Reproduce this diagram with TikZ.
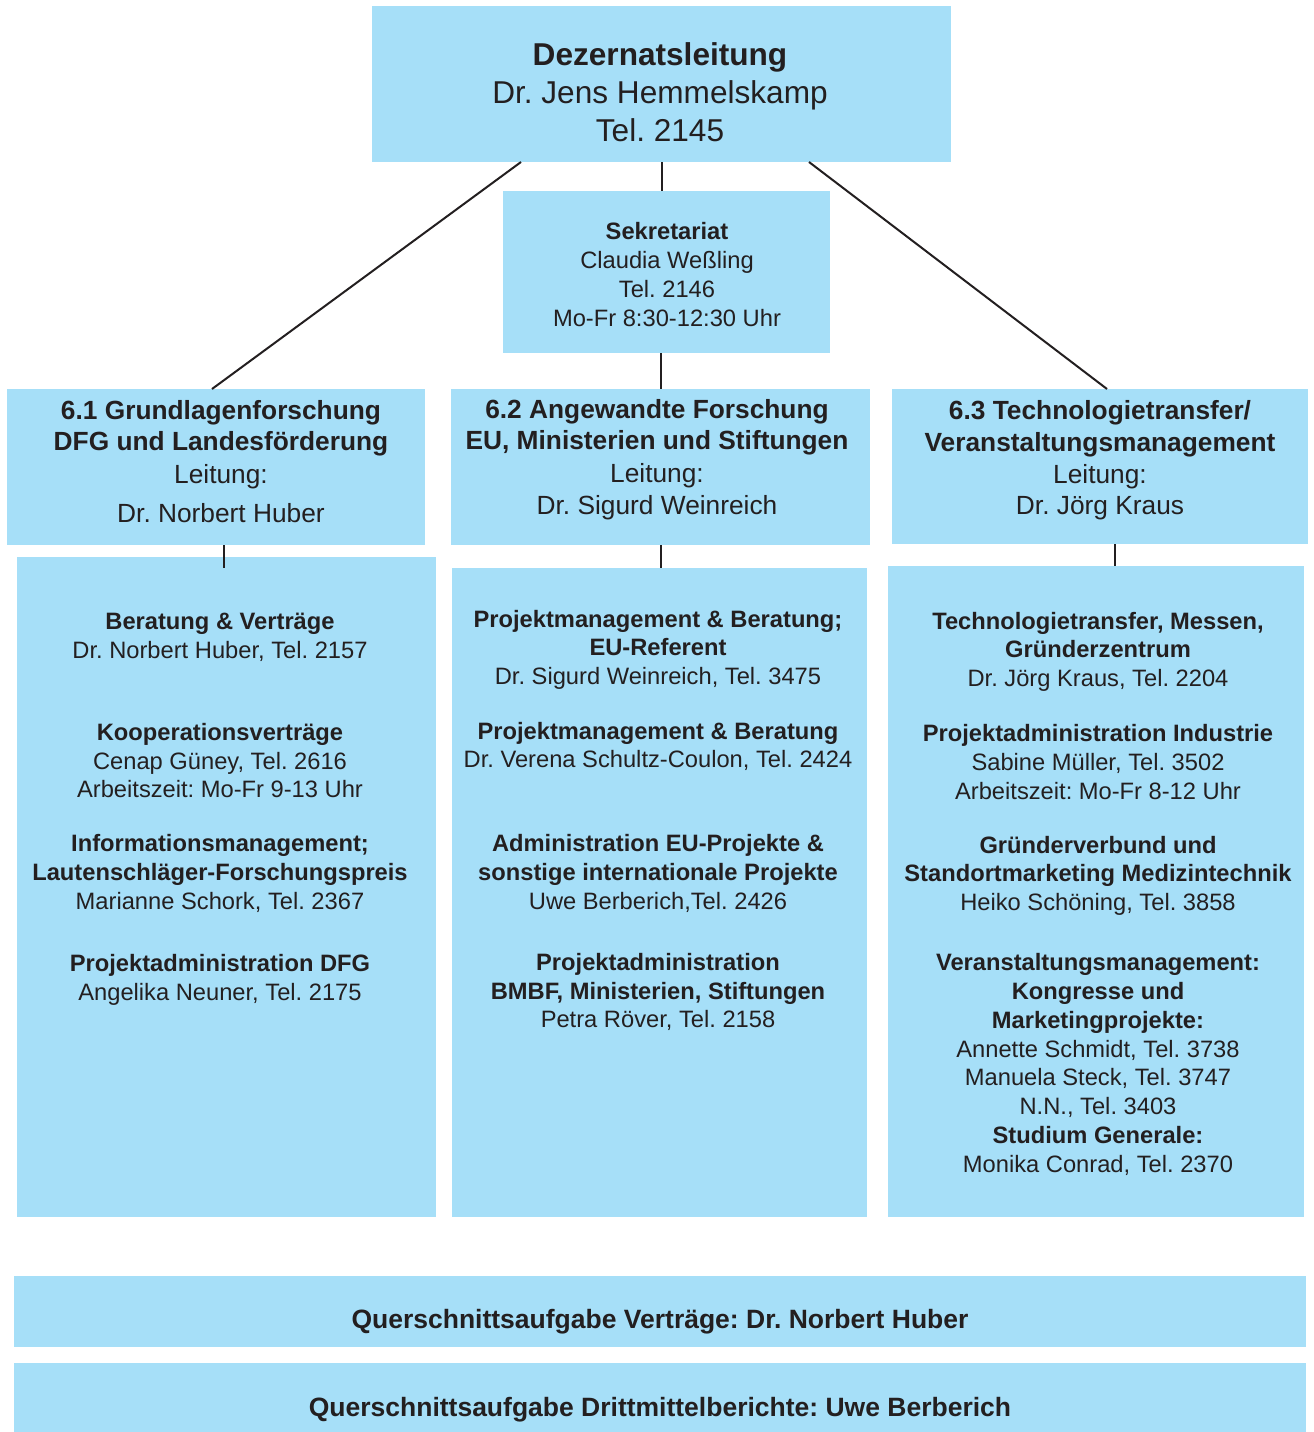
\documentclass[tikz,border=0pt]{standalone}
\usepackage{fontspec}
\setmainfont{Liberation Sans}
\frenchspacing
\definecolor{boxblue}{RGB}{166,223,248}
\definecolor{ink}{RGB}{35,31,32}
\tikzset{
  box/.style={rectangle, fill=boxblue, draw=none, inner sep=0pt, outer sep=0pt},
  conn/.style={draw=ink, line width=2pt},
  tx/.style={anchor=base, inner sep=0pt, outer sep=0pt, text=ink},
  bigb/.style={tx, font=\fontsize{31.6}{38}\selectfont\bfseries},
  bigr/.style={tx, font=\fontsize{31.6}{38}\selectfont},
  hdb/.style={tx, font=\fontsize{26.3}{31}\selectfont\bfseries},
  hdr/.style={tx, font=\fontsize{26.3}{31}\selectfont},
  qb/.style={tx, font=\fontsize{26.5}{31}\selectfont\bfseries},
  smb/.style={tx, font=\fontsize{23.7}{29}\selectfont\bfseries},
  smr/.style={tx, font=\fontsize{23.7}{29}\selectfont},
}
\begin{document}
\begin{tikzpicture}[x=1pt,y=-1pt]
\useasboundingbox (0,0) rectangle (1314,1432);
% boxes
\node[box, minimum width=579pt, minimum height=156pt] (top) at (661.5,84) {};
\node[box, minimum width=327pt, minimum height=162pt] (sek) at (666.5,272) {};
\node[box, minimum width=418pt, minimum height=156pt] (g1) at (216,467) {};
\node[box, minimum width=419pt, minimum height=156pt] (g2) at (660.5,467) {};
\node[box, minimum width=416pt, minimum height=155pt] (g3) at (1100,466.5) {};
\node[box, minimum width=419pt, minimum height=660pt] (d1) at (226.5,887) {};
\node[box, minimum width=415pt, minimum height=649pt] (d2) at (659.5,892.5) {};
\node[box, minimum width=416pt, minimum height=651pt] (d3) at (1096,891.5) {};
\node[box, minimum width=1292pt, minimum height=71pt] (q1) at (660,1311.5) {};
\node[box, minimum width=1292pt, minimum height=69pt] (q2) at (660,1397.5) {};
% connectors
\coordinate (c1) at (224,568);
\coordinate (c3) at (1115,566);
\draw[conn] ([xshift=149pt]top.south west) -- ([xshift=205pt]g1.north west);
\draw[conn] ([xshift=-142pt]top.south east) -- ([xshift=215pt]g3.north west);
\draw[conn] (top.south) -- (top.south |- sek.north);
\draw[conn] (g2.north |- sek.south) -- (g2.north);
\draw[conn] (g1.south -| c1) -- (c1);
\draw[conn] (g2.south) -- (g2.south |- d2.north);
\draw[conn] (g3.south -| c3) -- (c3);
% top text
\node[bigb] (top1) at (660,65.5) {Dezernatsleitung};
\node[bigr] (top2) at (660,103.5) {Dr. Jens Hemmelskamp};
\node[bigr] (top3) at (660,141.5) {Tel. 2145};
% secretariat
\node[smb] (sek1) at (667,239.5) {Sekretariat};
\node[smr] (sek2) at (667,268.5) {Claudia Weßling};
\node[smr] (sek3) at (667,297.5) {Tel. 2146};
\node[smr] (sek4) at (667,326.5) {Mo-Fr 8:30-12:30 Uhr};
% headers
\node[hdb] (ga1) at (221,419.5) {6.1 Grundlagenforschung};
\node[hdb] (ga2) at (221,450.5) {DFG und Landesförderung};
\node[hdr] (ga3) at (221,483.5) {Leitung:};
\node[hdr] (ga4) at (221,522.5) {Dr. Norbert Huber};
\node[hdb] (gb1) at (657,418.5) {6.2 Angewandte Forschung};
\node[hdb] (gb2) at (657,449.5) {EU, Ministerien und Stiftungen};
\node[hdr] (gb3) at (657,482.5) {Leitung:};
\node[hdr] (gb4) at (657,514.5) {Dr. Sigurd Weinreich};
\node[hdb] (gc1) at (1100,419.5) {6.3 Technologietransfer/};
\node[hdb] (gc2) at (1100,451.5) {Veranstaltungsmanagement};
\node[hdr] (gc3) at (1100,483.5) {Leitung:};
\node[hdr] (gc4) at (1100,514.5) {Dr. Jörg Kraus};
% column 1
\node[smb] (da1) at (220,629.5) {Beratung \& Verträge};
\node[smr] (da2) at (220,658.5) {Dr. Norbert Huber, Tel. 2157};
\node[smb] (da3) at (220,740.5) {Kooperationsverträge};
\node[smr] (da4) at (220,769.5) {Cenap Güney, Tel. 2616};
\node[smr] (da5) at (220,797.5) {Arbeitszeit: Mo-Fr 9-13 Uhr};
\node[smb] (da6) at (220,851.5) {Informationsmanagement;};
\node[smb] (da7) at (220,880.5) {Lautenschläger-Forschungspreis};
\node[smr] (da8) at (220,909.5) {Marianne Schork, Tel. 2367};
\node[smb] (da9) at (220,971.5) {Projektadministration DFG};
\node[smr] (da10) at (220,1000.5) {Angelika Neuner, Tel. 2175};
% column 2
\node[smb] (db1) at (658,627.5) {Projektmanagement \& Beratung;};
\node[smb] (db2) at (658,655.5) {EU-Referent};
\node[smr] (db3) at (658,684.5) {Dr. Sigurd Weinreich, Tel. 3475};
\node[smb] (db4) at (658,739.5) {Projektmanagement \& Beratung};
\node[smr] (db5) at (658,767.5) {Dr. Verena Schultz-Coulon, Tel. 2424};
\node[smb] (db6) at (658,851.5) {Administration EU-Projekte \&};
\node[smb] (db7) at (658,880.5) {sonstige internationale Projekte};
\node[smr] (db8) at (658,909.5) {Uwe Berberich,Tel. 2426};
\node[smb] (db9) at (658,970.5) {Projektadministration};
\node[smb] (db10) at (658,999.5) {BMBF, Ministerien, Stiftungen};
\node[smr] (db11) at (658,1027.5) {Petra Röver, Tel. 2158};
% column 3
\node[smb] (dc1) at (1098,629.5) {Technologietransfer, Messen,};
\node[smb] (dc2) at (1098,657.5) {Gründerzentrum};
\node[smr] (dc3) at (1098,686.5) {Dr. Jörg Kraus, Tel. 2204};
\node[smb] (dc4) at (1098,741.5) {Projektadministration Industrie};
\node[smr] (dc5) at (1098,770.5) {Sabine Müller, Tel. 3502};
\node[smr] (dc6) at (1098,799.5) {Arbeitszeit: Mo-Fr 8-12 Uhr};
\node[smb] (dc7) at (1098,853.5) {Gründerverbund und};
\node[smb] (dc8) at (1098,881.5) {Standortmarketing Medizintechnik};
\node[smr] (dc9) at (1098,910.5) {Heiko Schöning, Tel. 3858};
\node[smb] (dc10) at (1098,970.5) {Veranstaltungsmanagement:};
\node[smb] (dc11) at (1098,999.5) {Kongresse und};
\node[smb] (dc12) at (1098,1028.5) {Marketingprojekte:};
\node[smr] (dc13) at (1098,1057.5) {Annette Schmidt, Tel. 3738};
\node[smr] (dc14) at (1098,1085.5) {Manuela Steck, Tel. 3747};
\node[smr] (dc15) at (1098,1114.5) {N.N., Tel. 3403};
\node[smb] (dc16) at (1098,1143.5) {Studium Generale:};
\node[smr] (dc17) at (1098,1172.5) {Monika Conrad, Tel. 2370};
% bottom bars
\node[qb] (qt1) at (660,1328.5) {Querschnittsaufgabe Verträge: Dr. Norbert Huber};
\node[qb] (qt2) at (660,1416.5) {Querschnittsaufgabe Drittmittelberichte: Uwe Berberich};
\end{tikzpicture}
\end{document}
